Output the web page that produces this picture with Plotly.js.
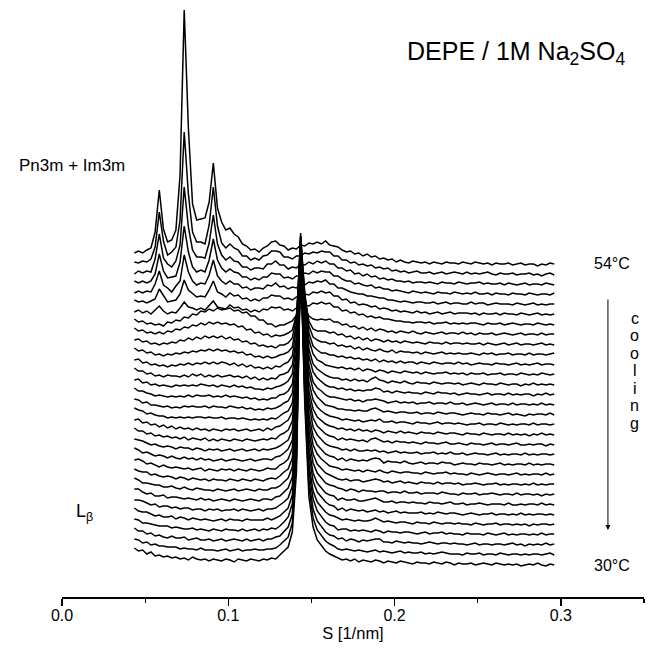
<!DOCTYPE html>
<html><head><meta charset="utf-8">
<script src="https://cdn.plot.ly/plotly-3.0.1.min.js"></script>
<style>html,body{margin:0;padding:0;background:#fff}#chart{width:655px;height:651px}</style>
</head><body><div id="chart"></div>
<script>
// scattering vector grid S [1/nm]
const s = [0.0435,0.046,0.0485,0.051,0.0535,0.056,0.0585,0.061,0.0635,0.066,
0.0685,0.071,0.0735,0.076,0.0785,0.081,0.0835,0.086,0.0885,0.091,
0.0935,0.096,0.0985,0.101,0.1035,0.106,0.1085,0.111,0.1135,0.116,
0.1185,0.121,0.1235,0.126,0.1285,0.131,0.1335,0.136,0.1385,0.141,
0.1435,0.146,0.1485,0.151,0.1535,0.156,0.1585,0.161,0.1635,0.166,
0.1685,0.171,0.1735,0.176,0.1785,0.181,0.1835,0.186,0.1885,0.191,
0.1935,0.196,0.1985,0.201,0.2035,0.206,0.2085,0.211,0.2135,0.216,
0.2185,0.221,0.2235,0.226,0.2285,0.231,0.2335,0.236,0.2385,0.241,
0.2435,0.246,0.2485,0.251,0.2535,0.256,0.2585,0.261,0.2635,0.266,
0.2685,0.271,0.2735,0.276,0.2785,0.281,0.2835,0.286,0.2885,0.291,
0.2935,0.296];

// temperatures of the scans, top (54 °C) to bottom (30 °C)
const temps = [54.0,53.2,52.4,51.6,50.8,50.0,49.2,48.4,47.6,46.8,46.0,45.2,44.4,43.6,42.8,42.0,
41.2,40.4,39.6,38.8,38.0,37.2,36.4,35.6,34.8,34.0,33.2,32.4,31.6,30.8,30.0];

// intensities (arbitrary units), one array per scan
const scan00 = [12,14,12,15,17,33,75,36,23,25,35,90,255,137,61,45,46,47,63,102,57,43,35,37,31,28,21,19,15,16,13,17,19,23,24,20,19,15,17,16,20,19,22,21,23,21,24,20,19,18,15,13,14,11,12,9,11,8,9,6,7,5,6,3,5,3,2,4,3,2,3,1,3,2,1,3,2,2,1,3,2,1,3,2,1,2,0,2,1,1,2,0,1,2,0,1,1,-1,1,0,2,1];
const scan01 = [13,12,14,13,16,28,63,34,20,23,28,55,143,81,43,33,33,31,50,88,49,32,27,31,27,25,19,19,15,17,15,19,20,24,24,23,18,18,16,19,19,22,21,23,22,24,23,23,19,19,15,15,12,13,10,11,9,10,7,8,6,7,4,5,3,4,2,3,4,2,2,3,1,2,3,1,2,3,2,1,3,1,2,1,2,3,1,0,2,1,1,2,0,1,1,2,0,1,-1,1,2,0];
const scan02 = [11,14,12,14,13,26,51,27,21,18,24,40,98,58,35,28,28,27,42,70,41,30,25,28,24,23,18,18,15,17,17,16,21,21,24,20,20,16,18,17,21,20,23,21,24,22,24,21,21,17,17,14,15,11,12,9,11,8,9,6,7,5,6,4,4,3,4,2,3,3,2,3,2,1,3,2,2,1,3,2,1,2,2,3,1,2,1,1,2,0,2,1,0,1,2,0,1,1,0,2,1,0];
const scan03 = [14,12,14,12,14,21,41,24,17,18,19,33,69,43,28,23,25,23,35,56,35,27,23,26,23,22,18,18,15,17,15,18,18,22,21,21,17,18,16,19,19,22,21,24,22,24,23,23,19,19,16,14,14,11,12,10,9,10,7,8,6,6,4,5,4,3,2,4,3,2,3,2,1,3,2,2,1,3,2,1,2,1,3,1,1,2,0,2,1,1,0,2,1,1,0,2,1,0,1,1,0,2];
const scan04 = [12,14,12,14,13,21,34,20,17,13,19,24,50,33,24,20,22,21,30,45,29,24,21,24,21,21,17,18,15,17,17,16,20,19,22,18,19,16,18,17,21,20,23,22,24,23,25,21,21,17,17,15,13,12,11,11,9,9,8,7,7,5,5,4,3,4,3,2,3,3,2,2,3,1,2,3,1,2,2,1,1,3,1,2,2,0,1,2,1,1,1,0,2,1,0,1,2,0,1,0,1,1];
const scan05 = [15,13,14,12,14,16,26,19,13,14,15,21,35,25,21,18,19,18,25,34,23,21,18,22,19,20,16,17,14,16,14,17,17,20,19,19,16,17,15,18,18,21,20,23,22,24,22,23,19,19,15,16,12,13,10,11,10,8,9,6,7,6,4,5,3,4,3,2,4,2,3,1,2,3,1,2,3,1,2,2,2,1,2,0,2,1,1,2,0,2,1,1,0,2,1,0,1,2,0,1,0,1];
const scan06 = [13,15,12,14,11,15,19,14,11,13,12,17,23,18,17,15,17,15,20,24,18,17,16,20,17,18,15,16,13,15,13,16,15,18,17,18,15,16,14,17,17,20,19,22,21,23,21,22,18,18,14,15,12,13,10,11,8,9,7,8,6,6,5,4,4,3,3,2,3,3,2,3,1,2,2,3,1,2,1,2,1,2,2,1,0,2,1,1,2,0,1,2,1,0,1,1,0,2,1,0,1,0];
const scan07 = [16,13,14,11,12,10,11,9,13,12,15,14,18,17,21,20,24,23,26,24,27,25,26,27,24,25,22,23,19,19,15,15,11,11,8,10,10,12,14,20,35,26,19,16,15,16,15,16,13,13,10,11,8,9,6,8,5,7,4,6,5,3,4,2,4,3,2,4,2,1,3,2,1,2,3,1,2,2,1,3,1,2,0,2,1,1,2,0,1,2,1,0,1,2,0,1,1,0,2,0,1,1];
const scan08 = [17,14,15,12,13,11,13,11,14,13,16,15,18,17,20,19,22,20,23,21,23,21,22,20,21,18,19,15,16,12,13,10,11,8,10,9,10,12,15,30,83,48,24,16,14,14,14,12,13,10,11,8,9,6,8,5,7,4,6,5,3,5,3,4,2,4,3,2,3,2,1,3,2,2,1,3,1,2,2,1,2,1,1,2,0,2,1,0,1,2,0,1,2,0,1,1,0,1,2,0,1,0];
const scan09 = [15,16,13,14,11,12,10,12,11,13,12,15,14,17,15,18,16,19,17,19,17,19,16,18,15,16,13,14,11,12,9,10,8,9,7,10,10,12,17,38,110,62,29,18,15,13,13,11,12,9,10,8,9,6,8,5,7,5,4,6,4,3,5,2,4,3,3,2,3,1,3,2,1,2,3,1,2,1,2,1,1,2,1,0,2,1,2,0,1,1,2,0,1,1,0,2,0,1,1,0,1,2];
const scan10 = [17,14,15,12,13,10,11,9,11,10,12,11,13,12,14,13,15,14,16,14,16,14,15,13,14,12,13,10,11,8,9,7,9,7,8,10,11,13,18,42,127,70,32,19,15,12,12,10,10,8,9,7,8,6,7,5,6,4,6,3,5,3,4,2,4,2,3,3,1,3,2,1,3,2,1,2,2,1,3,1,2,0,1,2,1,1,0,2,1,1,0,1,2,0,1,0,1,2,0,1,1,0];
const scan11 = [15,16,12,13,10,11,9,10,8,10,9,11,10,12,10,12,11,13,11,13,11,13,12,10,12,9,11,8,10,7,8,6,8,6,9,8,11,13,19,47,142,78,35,21,15,13,10,9,8,7,8,6,7,5,7,4,6,5,3,5,4,2,4,3,2,4,3,2,3,1,3,2,1,2,2,3,1,2,1,2,0,2,1,1,2,0,1,1,2,0,1,1,0,2,1,0,1,0,2,1,0,1];
const scan12 = [17,14,14,11,12,9,10,8,10,9,9,8,10,8,11,9,11,8,10,8,10,8,9,10,8,9,7,9,6,8,5,7,5,7,6,10,11,13,20,48,145,80,36,21,16,13,10,8,7,7,5,6,4,6,4,5,3,6,8,5,4,2,4,3,2,4,2,1,3,2,2,1,3,2,1,2,2,1,2,0,1,2,1,0,2,1,1,0,2,1,0,1,1,-1,1,0,2,0,1,0,1,0];
const scan13 = [15,16,12,13,10,11,9,10,9,8,10,9,10,9,10,9,11,10,9,10,8,10,9,8,10,8,9,7,8,6,6,5,7,6,8,9,11,14,21,52,159,87,39,23,17,13,10,8,8,6,7,5,6,4,5,4,5,5,7,6,3,4,2,4,3,2,3,2,2,1,3,2,1,3,2,2,1,2,0,1,2,1,1,0,1,2,0,1,1,0,2,0,1,0,1,1,-1,1,0,2,0,1];
const scan14 = [17,14,14,12,11,9,10,9,8,9,8,9,8,10,8,10,9,9,10,8,9,8,10,8,9,8,7,8,6,7,5,6,5,7,7,10,11,14,21,53,163,89,40,23,17,14,10,8,8,7,6,5,6,4,5,3,5,5,6,5,4,2,3,4,2,3,2,3,1,2,2,3,1,2,2,1,3,1,1,2,0,1,2,1,0,1,2,0,1,1,0,2,0,1,1,0,1,0,2,0,1,0];
const scan15 = [16,15,12,13,10,10,9,8,9,7,8,7,9,8,9,8,8,9,7,9,8,8,7,9,8,7,8,6,7,5,6,5,7,6,7,9,12,14,22,57,178,96,43,25,18,14,10,9,8,6,6,5,5,4,5,4,4,6,7,5,3,4,3,2,3,3,2,2,3,1,2,2,1,3,2,1,2,2,1,0,1,2,1,1,0,2,1,1,0,1,2,0,1,0,-1,1,0,1,1,0,2,0];
const scan16 = [17,15,14,11,12,10,9,9,7,8,7,8,7,8,7,8,8,7,8,7,7,8,6,7,7,6,7,6,5,6,5,6,5,7,6,9,12,14,22,58,181,97,43,25,18,14,11,9,8,7,5,6,5,4,5,3,4,5,4,6,3,3,4,2,3,3,2,1,3,2,2,1,2,3,1,2,2,1,2,1,0,1,1,2,0,1,1,0,2,1,0,1,0,1,1,0,2,0,1,1,0,1];
const scan17 = [15,16,12,13,10,11,8,10,7,9,6,8,6,7,5,7,5,6,4,6,5,4,6,5,6,4,5,6,4,5,6,4,7,5,8,9,12,15,23,59,186,100,44,26,18,14,11,9,8,6,7,5,6,4,6,4,5,3,5,4,2,4,3,2,4,2,3,2,1,3,2,2,1,3,2,1,2,2,1,0,2,1,1,0,2,1,0,1,1,0,2,0,1,0,1,-1,1,0,2,0,1,0];
const scan18 = [17,14,14,11,12,9,10,8,9,7,8,6,8,5,7,6,5,7,4,6,4,6,5,4,6,5,4,6,5,4,5,6,5,7,6,10,12,15,24,63,199,106,47,27,19,15,11,9,8,5,7,5,6,5,4,5,3,6,7,5,3,4,2,4,3,3,2,3,2,1,3,2,2,1,2,3,1,1,2,1,0,2,1,1,0,1,2,0,1,1,0,1,2,0,0,1,0,1,1,-1,1,0];
const scan19 = [16,15,14,12,10,11,9,8,9,8,6,8,7,7,5,7,6,4,6,5,6,4,5,6,4,5,6,4,5,6,4,6,5,6,7,9,12,15,25,67,214,114,50,28,20,16,11,9,8,7,5,6,4,6,4,4,5,4,5,3,4,2,3,4,2,3,2,2,3,1,2,2,3,1,2,1,3,1,1,2,0,1,2,1,1,0,1,2,0,1,0,1,1,0,2,0,1,0,1,1,0,1];
const scan20 = [17,15,12,13,11,9,10,9,7,9,7,6,8,6,7,5,7,5,6,4,5,6,4,5,6,5,4,5,6,4,5,6,6,5,8,9,12,16,25,68,217,115,50,29,20,16,11,9,8,5,7,4,6,5,4,5,4,6,7,6,2,4,3,3,2,4,2,1,2,3,1,2,2,1,3,2,2,0,1,2,1,1,0,2,1,1,0,1,2,0,1,0,1,1,0,2,0,1,0,1,1,0];
const scan21 = [15,16,14,11,12,10,8,10,8,7,8,7,6,7,5,6,7,4,6,5,4,6,5,6,4,6,5,4,6,5,4,5,7,6,6,10,12,16,27,72,232,123,53,30,21,16,12,9,8,7,5,6,5,4,5,3,5,4,3,5,3,2,4,3,2,3,3,2,2,1,3,2,1,2,2,3,1,2,1,1,0,2,1,0,1,2,1,0,1,1,0,1,2,0,1,0,1,1,0,2,0,1];
const scan22 = [16,14,13,13,10,11,9,8,9,8,6,8,7,5,7,6,5,6,4,6,5,5,4,6,5,4,6,5,4,6,5,4,6,7,6,9,13,16,27,73,235,124,54,31,21,16,12,10,8,6,5,6,4,5,5,3,4,5,6,5,3,4,2,3,4,2,3,2,1,3,2,2,1,3,1,2,2,1,2,0,1,1,2,1,0,1,1,2,0,1,0,1,1,0,1,0,2,0,1,0,1,1];
const scan23 = [17,15,12,12,11,10,10,8,8,9,7,6,8,6,5,7,6,5,5,4,6,5,4,5,6,4,5,6,5,4,6,5,5,7,7,9,13,17,28,77,250,132,57,32,22,17,12,10,9,7,6,4,6,5,3,5,4,4,3,4,4,2,3,3,2,4,2,2,3,1,2,2,2,1,3,2,1,1,0,2,1,1,2,0,1,1,2,1,0,1,1,0,2,0,1,1,0,1,-1,1,0,1];
const scan24 = [16,16,13,11,12,9,9,10,7,8,8,7,6,7,6,5,7,5,6,4,5,6,5,4,6,5,4,5,6,5,4,6,6,5,8,9,13,17,28,78,253,134,58,32,22,17,12,10,9,5,7,5,5,6,4,4,5,6,7,5,3,3,4,2,3,3,2,3,2,2,1,3,2,2,1,2,3,1,1,2,0,1,1,2,1,0,1,1,1,0,2,0,0,1,0,1,1,0,2,0,1,0];
const scan25 = [15,15,14,12,10,11,8,9,9,7,8,6,7,7,5,6,6,4,6,5,6,4,5,5,6,4,6,5,4,5,6,4,6,6,7,10,13,17,29,82,268,141,61,34,23,18,13,10,9,5,7,4,6,5,4,5,3,4,5,3,4,2,3,4,2,3,2,2,2,3,1,2,1,3,2,1,2,2,1,0,1,2,1,0,1,1,2,0,1,1,0,1,0,2,0,1,0,1,1,0,1,0];
const scan26 = [17,14,13,13,11,9,10,8,8,9,6,8,7,5,7,6,5,6,5,4,5,6,4,6,5,5,4,6,5,5,5,5,7,5,7,9,13,17,30,83,271,143,61,34,23,18,13,10,9,7,5,6,5,4,5,4,4,5,7,5,3,4,3,2,3,3,2,1,3,2,2,1,3,2,1,2,2,1,2,1,1,0,2,1,0,1,1,2,0,1,1,0,1,0,1,-1,1,0,1,1,0,1];
const scan27 = [16,15,12,12,11,10,9,9,9,7,8,7,6,6,7,5,6,5,4,6,5,4,6,5,5,4,6,4,5,6,4,6,5,7,6,9,13,18,31,87,286,150,64,36,24,18,13,10,9,5,6,6,4,5,4,5,4,3,5,4,2,4,3,3,2,3,3,2,1,2,3,1,2,2,3,1,2,1,1,0,2,1,1,1,0,2,1,0,1,2,0,1,0,1,1,0,1,0,2,0,1,1];
const scan28 = [17,14,14,11,12,9,10,8,7,9,7,7,8,5,6,7,5,5,6,4,5,6,4,5,6,5,4,6,4,5,6,4,6,6,8,9,13,18,31,88,289,152,65,36,24,19,13,10,9,6,7,4,6,5,3,5,4,5,6,6,3,3,2,4,3,2,3,2,2,1,2,3,2,1,2,2,1,2,1,1,0,1,2,0,1,1,0,1,1,0,1,2,0,1,-1,1,0,1,0,2,0,1];
const scan29 = [16,15,12,13,10,11,9,9,8,8,8,6,7,6,6,5,7,5,5,5,4,5,6,4,5,6,4,5,5,6,5,5,6,6,7,10,14,18,32,92,304,159,68,37,25,19,14,11,9,6,5,6,5,4,5,4,3,4,5,3,4,3,2,3,4,2,3,2,2,3,1,2,1,2,3,2,1,1,1,0,2,1,1,2,0,1,1,0,2,1,0,1,1,0,1,0,1,1,0,1,2,0];
const scan30 = [17,14,15,11,13,9,10,8,9,7,8,6,7,5,8,6,5,6,4,6,5,4,6,5,3,6,5,4,6,5,4,6,5,7,6,10,14,18,33,93,307,161,68,38,25,19,14,11,9,7,5,6,4,6,3,5,4,3,5,4,2,4,3,2,4,3,2,1,3,2,2,1,3,2,1,3,2,0,2,1,1,2,0,1,2,1,0,2,1,0,1,0,1,-1,0,1,0,2,0,-1,1,0];

const scans = [scan00,scan01,scan02,scan03,scan04,scan05,scan06,scan07,scan08,scan09,scan10,
  scan11,scan12,scan13,scan14,scan15,scan16,scan17,scan18,scan19,scan20,
  scan21,scan22,scan23,scan24,scan25,scan26,scan27,scan28,scan29,scan30];

const xTickVals = [0.0, 0.1, 0.2, 0.3];
const xTickText = ['0.0', '0.1', '0.2', '0.3'];

// waterfall offset between scans (display only)
const STEP = 10, BASE = 32;
const n = scans.length;
const traces = scans.map((arr, k) => {
  const len = Math.min(arr.length, s.length);
  return {
    type: 'scatter', mode: 'lines',
    x: s.slice(0, len),
    y: arr.slice(0, len).map(v => v + BASE + STEP * (n - 1 - k)),
    line: {color: '#000', width: 1.5},
    name: temps[k] + '°C', hoverinfo: 'skip', showlegend: false, cliponaxis: false
  };
});

const F = 'Liberation Sans, Arial, Helvetica, sans-serif';
const px2x = px => (px - 62) / 1663;   // annotation placement helpers
const py2y = py => 597 - py;

const ann = [
  {x: px2x(405), y: py2y(53), xanchor: 'left', yanchor: 'middle',
   text: 'DEPE / 1M Na<sub>2</sub>SO<sub>4</sub>', font: {size: 25}},
  {x: px2x(127), y: py2y(165), xanchor: 'right', yanchor: 'middle',
   text: 'Pn3m + Im3m', font: {size: 17}},
  {x: px2x(74), y: py2y(512), xanchor: 'left', yanchor: 'middle',
   text: 'L<sub>β</sub>', font: {size: 18}},
  {x: px2x(592), y: py2y(263), xanchor: 'left', yanchor: 'middle', text: '54°C', font: {size: 16}},
  {x: px2x(592), y: py2y(565), xanchor: 'left', yanchor: 'middle', text: '30°C', font: {size: 16}}
];
const letters = ['c','o','o','l','i','n','g'];
letters.forEach((ch, i) => ann.push({x: px2x(635), y: py2y(318 + 17.5 * i), xanchor: 'center', yanchor: 'middle',
  text: ch, font: {size: 16}}));
ann.push({x: px2x(608), y: py2y(530), ax: 0, ay: -232, text: '', showarrow: true,
  arrowhead: 2, arrowsize: 1, arrowwidth: 1, arrowcolor: '#000', standoff: 0, startstandoff: 0});
ann.forEach(a => { a.xref = 'x'; a.yref = 'y'; if (a.showarrow === undefined) a.showarrow = false; });

const layout = {
  width: 655, height: 651,
  margin: {l: 62, r: 11, t: 0, b: 54},
  paper_bgcolor: '#fff', plot_bgcolor: '#fff',
  showlegend: false,
  font: {family: F, color: '#000', size: 16},
  xaxis: {
    range: [0, 0.35], tickvals: xTickVals, ticktext: xTickText,
    ticks: 'outside', ticklen: 7, tickwidth: 1.3, tickcolor: '#000', ticklabelstandoff: -4,
    showline: true, linecolor: '#000', linewidth: 1.5,
    showgrid: false, zeroline: false, tickfont: {size: 16, family: F},
    title: {text: 'S [1/nm]', font: {size: 16.5, family: F}, standoff: 2},
    minor: {dtick: 0.05, tick0: 0, ticks: 'outside', ticklen: 4, tickwidth: 1.2, tickcolor: '#000', showgrid: false},
    fixedrange: true
  },
  yaxis: {range: [0, 597], visible: false, fixedrange: true},
  annotations: ann
};

Plotly.newPlot('chart', traces, layout, {staticPlot: true, displayModeBar: false});
</script></body></html>
